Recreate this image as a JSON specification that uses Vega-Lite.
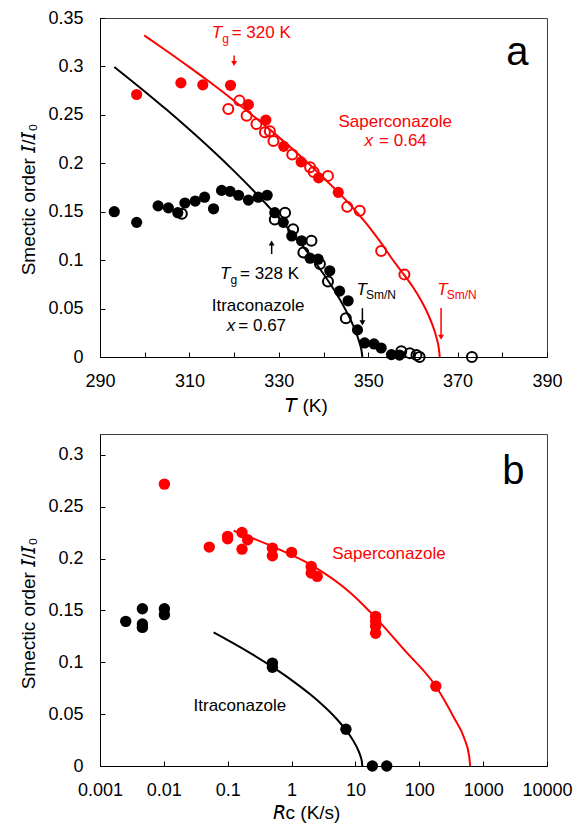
{
  "$schema": "https://vega.github.io/schema/vega-lite/v6.json",
  "padding": {"left": 18, "top": 8, "right": 5, "bottom": 3},
  "bounds": "flush",
  "spacing": 77,
  "config": {
    "font": "Liberation Sans",
    "view": {"stroke": "#404040", "strokeWidth": 1},
    "axis": {"grid": false, "domainColor": "#000000", "tickColor": "#000000", "labelColor": "#000000", "titleColor": "#000000", "labelFontSize": 18, "titleFontSize": 19, "titleFontWeight": "normal", "tickSize": -5, "labelFlush": false, "labelOverlap": false}
  },
  "datasets": {
    "curveA": [
      {"T": 293.2, "y": 0.2995, "compound": "Itraconazole"}, {"T": 300, "y": 0.2742, "compound": "Itraconazole"}, {"T": 305, "y": 0.2549, "compound": "Itraconazole"}, {"T": 310, "y": 0.2348, "compound": "Itraconazole"}, {"T": 315, "y": 0.2139, "compound": "Itraconazole"}, {"T": 320, "y": 0.1919, "compound": "Itraconazole"}, {"T": 325, "y": 0.1686, "compound": "Itraconazole"}, {"T": 330, "y": 0.1437, "compound": "Itraconazole"}, {"T": 335, "y": 0.1165, "compound": "Itraconazole"}, {"T": 340, "y": 0.0857, "compound": "Itraconazole"}, {"T": 343, "y": 0.0645, "compound": "Itraconazole"}, {"T": 345, "y": 0.0481, "compound": "Itraconazole"}, {"T": 347, "y": 0.0285, "compound": "Itraconazole"}, {"T": 348, "y": 0.0156, "compound": "Itraconazole"}, {"T": 348.5, "y": 0.0067, "compound": "Itraconazole"}, {"T": 348.7, "y": 0, "compound": "Itraconazole"},
      {"T": 299.9, "y": 0.332, "compound": "Saperconazole"}, {"T": 305, "y": 0.3157, "compound": "Saperconazole"}, {"T": 310, "y": 0.2993, "compound": "Saperconazole"}, {"T": 315, "y": 0.2823, "compound": "Saperconazole"}, {"T": 320, "y": 0.2646, "compound": "Saperconazole"}, {"T": 325, "y": 0.2462, "compound": "Saperconazole"}, {"T": 330, "y": 0.227, "compound": "Saperconazole"}, {"T": 335, "y": 0.2067, "compound": "Saperconazole"}, {"T": 340, "y": 0.1851, "compound": "Saperconazole"}, {"T": 343, "y": 0.1715, "compound": "Saperconazole"}, {"T": 346, "y": 0.157, "compound": "Saperconazole"}, {"T": 349, "y": 0.141, "compound": "Saperconazole"}, {"T": 351, "y": 0.1295, "compound": "Saperconazole"}, {"T": 353, "y": 0.117, "compound": "Saperconazole"}, {"T": 355, "y": 0.1035, "compound": "Saperconazole"}, {"T": 358, "y": 0.085, "compound": "Saperconazole"}, {"T": 360, "y": 0.0722, "compound": "Saperconazole"}, {"T": 362, "y": 0.057, "compound": "Saperconazole"}, {"T": 363.5, "y": 0.043, "compound": "Saperconazole"}, {"T": 364.5, "y": 0.0315, "compound": "Saperconazole"}, {"T": 365.3, "y": 0.0195, "compound": "Saperconazole"}, {"T": 365.8, "y": 0.0088, "compound": "Saperconazole"}, {"T": 366, "y": 0, "compound": "Saperconazole"}
    ],
    "pointsA": [
      {"T": 293.2, "y": 0.150, "compound": "Itraconazole", "set": "filled"}, {"T": 298.2, "y": 0.139, "compound": "Itraconazole", "set": "filled"}, {"T": 303.0, "y": 0.156, "compound": "Itraconazole", "set": "filled"}, {"T": 305.3, "y": 0.154, "compound": "Itraconazole", "set": "filled"}, {"T": 307.4, "y": 0.149, "compound": "Itraconazole", "set": "filled"}, {"T": 309.0, "y": 0.159, "compound": "Itraconazole", "set": "filled"}, {"T": 311.3, "y": 0.161, "compound": "Itraconazole", "set": "filled"}, {"T": 313.4, "y": 0.165, "compound": "Itraconazole", "set": "filled"}, {"T": 315.4, "y": 0.153, "compound": "Itraconazole", "set": "filled"}, {"T": 317.2, "y": 0.172, "compound": "Itraconazole", "set": "filled"}, {"T": 319.1, "y": 0.171, "compound": "Itraconazole", "set": "filled"}, {"T": 321.0, "y": 0.167, "compound": "Itraconazole", "set": "filled"}, {"T": 323.2, "y": 0.162, "compound": "Itraconazole", "set": "filled"}, {"T": 325.4, "y": 0.165, "compound": "Itraconazole", "set": "filled"}, {"T": 327.4, "y": 0.167, "compound": "Itraconazole", "set": "filled"}, {"T": 329.1, "y": 0.149, "compound": "Itraconazole", "set": "filled"}, {"T": 331.0, "y": 0.139, "compound": "Itraconazole", "set": "filled"}, {"T": 332.9, "y": 0.125, "compound": "Itraconazole", "set": "filled"}, {"T": 335.1, "y": 0.120, "compound": "Itraconazole", "set": "filled"}, {"T": 337.0, "y": 0.102, "compound": "Itraconazole", "set": "filled"}, {"T": 338.8, "y": 0.101, "compound": "Itraconazole", "set": "filled"}, {"T": 341.4, "y": 0.089, "compound": "Itraconazole", "set": "filled"}, {"T": 343.6, "y": 0.068, "compound": "Itraconazole", "set": "filled"}, {"T": 345.5, "y": 0.058, "compound": "Itraconazole", "set": "filled"}, {"T": 347.6, "y": 0.028, "compound": "Itraconazole", "set": "filled"}, {"T": 349.2, "y": 0.0145, "compound": "Itraconazole", "set": "filled"}, {"T": 351.3, "y": 0.0135, "compound": "Itraconazole", "set": "filled"}, {"T": 352.9, "y": 0.0093, "compound": "Itraconazole", "set": "filled"}, {"T": 355.2, "y": 0.0025, "compound": "Itraconazole", "set": "filled"}, {"T": 357.0, "y": 0.002, "compound": "Itraconazole", "set": "filled"},
      {"T": 308.3, "y": 0.148, "compound": "Itraconazole", "set": "open"}, {"T": 329.1, "y": 0.142, "compound": "Itraconazole", "set": "open"}, {"T": 331.4, "y": 0.149, "compound": "Itraconazole", "set": "open"}, {"T": 333.2, "y": 0.132, "compound": "Itraconazole", "set": "open"}, {"T": 335.5, "y": 0.108, "compound": "Itraconazole", "set": "open"}, {"T": 337.3, "y": 0.120, "compound": "Itraconazole", "set": "open"}, {"T": 339.2, "y": 0.096, "compound": "Itraconazole", "set": "open"}, {"T": 341.0, "y": 0.078, "compound": "Itraconazole", "set": "open"}, {"T": 345.0, "y": 0.040, "compound": "Itraconazole", "set": "open"}, {"T": 357.4, "y": 0.006, "compound": "Itraconazole", "set": "open"}, {"T": 359.3, "y": 0.004, "compound": "Itraconazole", "set": "open"}, {"T": 360.8, "y": 0.002, "compound": "Itraconazole", "set": "open"}, {"T": 361.5, "y": 0.0, "compound": "Itraconazole", "set": "open"}, {"T": 373.2, "y": 0.0, "compound": "Itraconazole", "set": "open"},
      {"T": 298.2, "y": 0.271, "compound": "Saperconazole", "set": "filled"}, {"T": 308.1, "y": 0.283, "compound": "Saperconazole", "set": "filled"}, {"T": 313.0, "y": 0.281, "compound": "Saperconazole", "set": "filled"}, {"T": 319.2, "y": 0.2805, "compound": "Saperconazole", "set": "filled"}, {"T": 323.2, "y": 0.2606, "compound": "Saperconazole", "set": "filled"}, {"T": 327.1, "y": 0.2447, "compound": "Saperconazole", "set": "filled"}, {"T": 331.1, "y": 0.2175, "compound": "Saperconazole", "set": "filled"}, {"T": 335.0, "y": 0.2015, "compound": "Saperconazole", "set": "filled"}, {"T": 338.9, "y": 0.185, "compound": "Saperconazole", "set": "filled"}, {"T": 343.3, "y": 0.170, "compound": "Saperconazole", "set": "filled"},
      {"T": 318.7, "y": 0.256, "compound": "Saperconazole", "set": "open"}, {"T": 321.2, "y": 0.2647, "compound": "Saperconazole", "set": "open"}, {"T": 322.8, "y": 0.249, "compound": "Saperconazole", "set": "open"}, {"T": 325.0, "y": 0.2405, "compound": "Saperconazole", "set": "open"}, {"T": 326.9, "y": 0.232, "compound": "Saperconazole", "set": "open"}, {"T": 328.0, "y": 0.233, "compound": "Saperconazole", "set": "open"}, {"T": 328.8, "y": 0.223, "compound": "Saperconazole", "set": "open"}, {"T": 333.0, "y": 0.209, "compound": "Saperconazole", "set": "open"}, {"T": 337.0, "y": 0.196, "compound": "Saperconazole", "set": "open"}, {"T": 337.8, "y": 0.191, "compound": "Saperconazole", "set": "open"}, {"T": 341.0, "y": 0.187, "compound": "Saperconazole", "set": "open"}, {"T": 345.3, "y": 0.155, "compound": "Saperconazole", "set": "open"}, {"T": 348.1, "y": 0.151, "compound": "Saperconazole", "set": "open"}, {"T": 352.9, "y": 0.1094, "compound": "Saperconazole", "set": "open"}, {"T": 358.1, "y": 0.0853, "compound": "Saperconazole", "set": "open"}
    ],
    "arrowsA": [
      {"T": 320.0, "y": 0.3030, "ytail": 0.3114, "compound": "Saperconazole", "dir": "down"},
      {"T": 328.4, "y": 0.1177, "ytail": 0.1063, "compound": "Itraconazole", "dir": "up"},
      {"T": 348.7, "y": 0.0352, "ytail": 0.0504, "compound": "Itraconazole", "dir": "down"},
      {"T": 366.3, "y": 0.0204, "ytail": 0.0507, "compound": "Saperconazole", "dir": "down"}
    ],
    "italicA": [
      {"T": 315.0, "y": 0.3289, "label": "T", "compound": "Saperconazole"},
      {"T": 316.85, "y": 0.0801, "label": "T", "compound": "Itraconazole"},
      {"T": 347.37, "y": 0.0639, "label": "T", "compound": "Itraconazole"},
      {"T": 365.45, "y": 0.0639, "label": "T", "compound": "Saperconazole"},
      {"T": 349.2, "y": 0.2174, "label": "x", "compound": "Saperconazole"},
      {"T": 318.35, "y": 0.0266, "label": "x", "compound": "Itraconazole"}
    ],
    "subA": [
      {"T": 317.34, "y": 0.3247, "label": "g", "compound": "Saperconazole"},
      {"T": 319.2, "y": 0.0758, "label": "g", "compound": "Itraconazole"},
      {"T": 349.49, "y": 0.0597, "label": "Sm/N", "compound": "Itraconazole"},
      {"T": 367.57, "y": 0.0597, "label": "Sm/N", "compound": "Saperconazole"}
    ],
    "plainA": [
      {"T": 319.46, "y": 0.3289, "label": "= 320 K", "compound": "Saperconazole"},
      {"T": 321.32, "y": 0.0801, "label": "= 328 K", "compound": "Itraconazole"},
      {"T": 343.35, "y": 0.2378, "label": "Saperconazole", "compound": "Saperconazole"},
      {"T": 352.43, "y": 0.2174, "label": "= 0.64", "compound": "Saperconazole"},
      {"T": 315.0, "y": 0.0473, "label": "Itraconazole", "compound": "Itraconazole"},
      {"T": 320.94, "y": 0.0266, "label": "= 0.67", "compound": "Itraconazole"}
    ],
    "letterA": [{"T": 383.4, "y": 0.301, "label": "a"}],
    "curveB": [
      {"Rc": 0.0601, "y": 0.1288, "compound": "Itraconazole"}, {"Rc": 0.1, "y": 0.1214, "compound": "Itraconazole"}, {"Rc": 0.2, "y": 0.1108, "compound": "Itraconazole"}, {"Rc": 0.5, "y": 0.0955, "compound": "Itraconazole"}, {"Rc": 1, "y": 0.0828, "compound": "Itraconazole"}, {"Rc": 2, "y": 0.0686, "compound": "Itraconazole"}, {"Rc": 3, "y": 0.0592, "compound": "Itraconazole"}, {"Rc": 5, "y": 0.0458, "compound": "Itraconazole"}, {"Rc": 7, "y": 0.0352, "compound": "Itraconazole"}, {"Rc": 9, "y": 0.0256, "compound": "Itraconazole"}, {"Rc": 11, "y": 0.0156, "compound": "Itraconazole"}, {"Rc": 12, "y": 0.0095, "compound": "Itraconazole"}, {"Rc": 12.6, "y": 0.0044, "compound": "Itraconazole"}, {"Rc": 12.82, "y": 0, "compound": "Itraconazole"},
      {"Rc": 0.124, "y": 0.2268, "compound": "Saperconazole"}, {"Rc": 0.495, "y": 0.2117, "compound": "Saperconazole"}, {"Rc": 1.98, "y": 0.194, "compound": "Saperconazole"}, {"Rc": 8.41, "y": 0.1667, "compound": "Saperconazole"}, {"Rc": 23.4, "y": 0.1394, "compound": "Saperconazole"}, {"Rc": 57.7, "y": 0.1121, "compound": "Saperconazole"}, {"Rc": 181.6, "y": 0.0768, "compound": "Saperconazole"}, {"Rc": 351.6, "y": 0.0462, "compound": "Saperconazole"}, {"Rc": 501, "y": 0.0275, "compound": "Saperconazole"}, {"Rc": 602.6, "y": 0.0097, "compound": "Saperconazole"}, {"Rc": 626.6, "y": 0, "compound": "Saperconazole"}
    ],
    "pointsB": [
      {"Rc": 0.0102, "y": 0.2717, "compound": "Saperconazole"}, {"Rc": 0.0514, "y": 0.211, "compound": "Saperconazole"}, {"Rc": 0.0996, "y": 0.2213, "compound": "Saperconazole"}, {"Rc": 0.0996, "y": 0.219, "compound": "Saperconazole"}, {"Rc": 0.1675, "y": 0.2251, "compound": "Saperconazole"}, {"Rc": 0.1675, "y": 0.209, "compound": "Saperconazole"}, {"Rc": 0.205, "y": 0.218, "compound": "Saperconazole"}, {"Rc": 0.501, "y": 0.210, "compound": "Saperconazole"}, {"Rc": 0.501, "y": 0.2027, "compound": "Saperconazole"}, {"Rc": 1.0, "y": 0.2059, "compound": "Saperconazole"}, {"Rc": 2.03, "y": 0.1924, "compound": "Saperconazole"}, {"Rc": 2.03, "y": 0.186, "compound": "Saperconazole"}, {"Rc": 2.52, "y": 0.1828, "compound": "Saperconazole"}, {"Rc": 20.7, "y": 0.1442, "compound": "Saperconazole"}, {"Rc": 20.7, "y": 0.1394, "compound": "Saperconazole"}, {"Rc": 20.7, "y": 0.1346, "compound": "Saperconazole"}, {"Rc": 20.7, "y": 0.128, "compound": "Saperconazole"}, {"Rc": 181.5, "y": 0.0768, "compound": "Saperconazole"},
      {"Rc": 0.00253, "y": 0.1394, "compound": "Itraconazole"}, {"Rc": 0.00461, "y": 0.1516, "compound": "Itraconazole"}, {"Rc": 0.00461, "y": 0.1368, "compound": "Itraconazole"}, {"Rc": 0.00461, "y": 0.1336, "compound": "Itraconazole"}, {"Rc": 0.0102, "y": 0.1516, "compound": "Itraconazole"}, {"Rc": 0.0102, "y": 0.1459, "compound": "Itraconazole"}, {"Rc": 0.501, "y": 0.0992, "compound": "Itraconazole"}, {"Rc": 0.501, "y": 0.0951, "compound": "Itraconazole"}, {"Rc": 7.1, "y": 0.0354, "compound": "Itraconazole"}, {"Rc": 18.4, "y": 0, "compound": "Itraconazole"}, {"Rc": 30.9, "y": 0, "compound": "Itraconazole"}
    ],
    "plainB": [
      {"Rc": 4.335, "y": 0.1998, "label": "Saperconazole", "compound": "Saperconazole"},
      {"Rc": 0.02915, "y": 0.0534, "label": "Itraconazole", "compound": "Itraconazole"}
    ],
    "letterB": [{"Rc": 2968, "y": 0.2721, "label": "b"}]
  },
  "vconcat": [
    {
      "width": 447,
      "height": 339,
      "encoding": {
        "x": {"field": "T", "type": "quantitative", "scale": {"domain": [290, 390], "nice": false, "zero": false},
          "axis": {"title": "𝘛 (K)", "values": [290, 300, 310, 320, 330, 340, 350, 360, 370, 380, 390], "labelExpr": "datum.value % 20 == 10 ? datum.label : ''", "labelPadding": 20, "titleX": 206, "titleY": 54, "titleBaseline": "alphabetic", "titleAlign": "center"}},
        "y": {"field": "y", "type": "quantitative", "scale": {"domain": [0, 0.35], "nice": false},
          "axis": {"title": "Smectic order 𝘐/𝘐₀", "values": [0, 0.05, 0.1, 0.15, 0.2, 0.25, 0.3, 0.35], "labelExpr": "format(datum.value, '~g')", "labelPadding": 22, "titleX": -66, "titleY": 181, "titleBaseline": "alphabetic", "titleAlign": "center", "titleAngle": 270}},
        "color": {"field": "compound", "type": "nominal", "scale": {"domain": ["Itraconazole", "Saperconazole"], "range": ["#000000", "#ff0000"]}, "legend": null}
      },
      "layer": [
        {"data": {"name": "curveA"}, "mark": {"type": "line", "strokeWidth": 2, "interpolate": "monotone"}},
        {"data": {"name": "pointsA"}, "transform": [{"filter": "datum.set == 'filled'"}], "mark": {"type": "point", "shape": "circle", "filled": true, "size": 125, "opacity": 1}},
        {"data": {"name": "pointsA"}, "transform": [{"filter": "datum.set == 'open'"}], "mark": {"type": "point", "shape": "circle", "filled": false, "size": 100, "strokeWidth": 2, "opacity": 1}},
        {"data": {"name": "arrowsA"}, "mark": {"type": "rule", "strokeWidth": 1.5}, "encoding": {"y2": {"field": "ytail"}}},
        {"data": {"name": "arrowsA"}, "mark": {"type": "point", "filled": true, "size": 35, "opacity": 1},
          "encoding": {"shape": {"field": "dir", "type": "nominal", "scale": {"domain": ["down", "up"], "range": ["triangle-down", "triangle-up"]}, "legend": null}}},
        {"data": {"name": "italicA"}, "mark": {"type": "text", "align": "left", "baseline": "alphabetic", "fontSize": 17, "fontStyle": "italic"}, "encoding": {"text": {"field": "label"}}},
        {"data": {"name": "subA"}, "mark": {"type": "text", "align": "left", "baseline": "alphabetic", "fontSize": 12}, "encoding": {"text": {"field": "label"}}},
        {"data": {"name": "plainA"}, "mark": {"type": "text", "align": "left", "baseline": "alphabetic", "fontSize": 17}, "encoding": {"text": {"field": "label"}}},
        {"data": {"name": "letterA"}, "mark": {"type": "text", "align": "center", "baseline": "alphabetic", "fontSize": 40}, "encoding": {"text": {"field": "label"}, "color": {"value": "#000000"}}}
      ]
    },
    {
      "width": 447,
      "height": 332,
      "encoding": {
        "x": {"field": "Rc", "type": "quantitative", "scale": {"type": "log", "domain": [0.001, 10000], "nice": false},
          "axis": {"title": "𝘙c (K/s)", "values": [0.001, 0.01, 0.1, 1, 10, 100, 1000, 10000], "labelExpr": "format(datum.value, '~g')", "labelPadding": 20, "titleX": 206, "titleY": 52, "titleBaseline": "alphabetic", "titleAlign": "center"}},
        "y": {"field": "y", "type": "quantitative", "scale": {"domain": [0, 0.32], "nice": false},
          "axis": {"title": "Smectic order 𝘐/𝘐₀", "values": [0, 0.05, 0.1, 0.15, 0.2, 0.25, 0.3], "labelExpr": "format(datum.value, '~g')", "labelPadding": 22, "titleX": -66, "titleY": 179, "titleBaseline": "alphabetic", "titleAlign": "center", "titleAngle": 270}},
        "color": {"field": "compound", "type": "nominal", "scale": {"domain": ["Itraconazole", "Saperconazole"], "range": ["#000000", "#ff0000"]}, "legend": null}
      },
      "layer": [
        {"data": {"name": "curveB"}, "mark": {"type": "line", "strokeWidth": 2, "interpolate": "monotone"}},
        {"data": {"name": "pointsB"}, "mark": {"type": "point", "shape": "circle", "filled": true, "size": 130, "opacity": 1}},
        {"data": {"name": "plainB"}, "mark": {"type": "text", "align": "left", "baseline": "alphabetic", "fontSize": 17}, "encoding": {"text": {"field": "label"}}},
        {"data": {"name": "letterB"}, "mark": {"type": "text", "align": "center", "baseline": "alphabetic", "fontSize": 40}, "encoding": {"text": {"field": "label"}, "color": {"value": "#000000"}}}
      ]
    }
  ]
}
